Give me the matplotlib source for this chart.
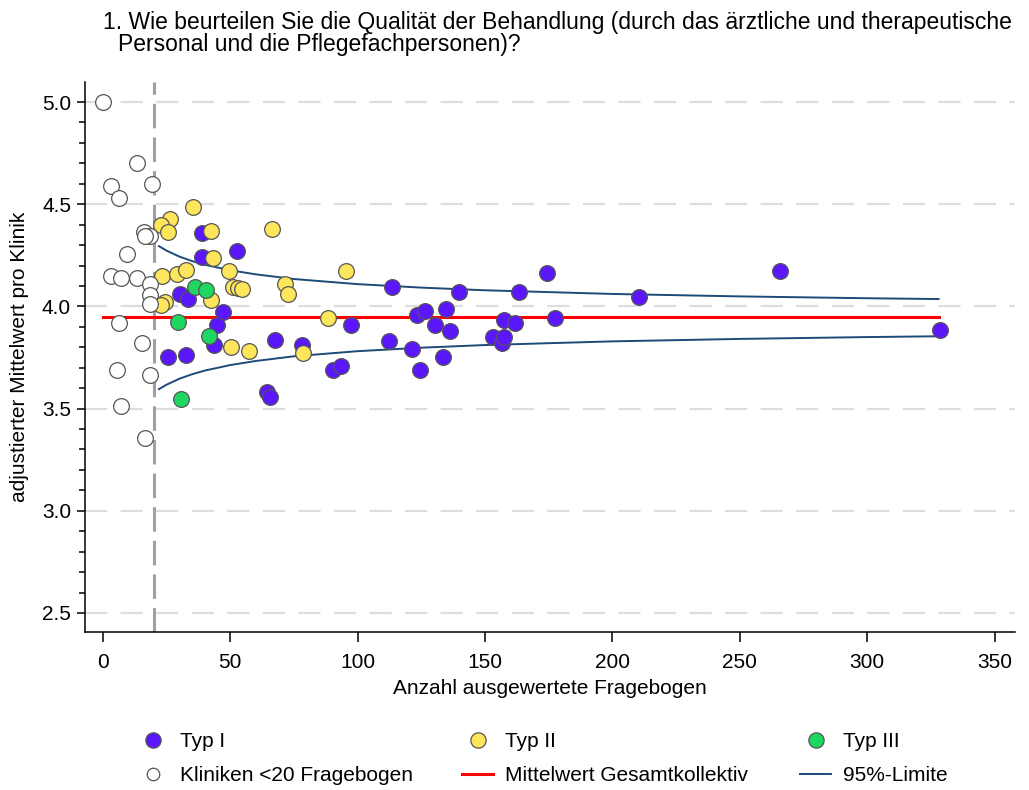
import matplotlib.pyplot as plt
from matplotlib.lines import Line2D
from matplotlib.ticker import MultipleLocator

plt.rcParams['font.family'] = ['Liberation Sans', 'DejaVu Sans']

# Typ I
typ1_n = [39.1, 52.5, 39.1, 30.2, 33.5, 47.3, 44.7, 43.6, 25.4, 32.5, 67.6, 78.0, 64.3, 65.6,
          113.4, 139.6, 97.4, 90.5, 93.5, 123.2, 126.6, 130.4, 134.5, 136.3, 112.4, 121.5,
          124.5, 133.4, 163.5, 174.5, 157.5, 161.6, 153.3, 156.6, 157.6, 177.5, 210.5, 265.6, 328.4]
typ1_mw = [4.36, 4.27, 4.243, 4.06, 4.035, 3.974, 3.91, 3.81, 3.754, 3.762, 3.836, 3.81, 3.583, 3.555,
           4.097, 4.069, 3.91, 3.689, 3.71, 3.958, 3.979, 3.91, 3.987, 3.88, 3.83, 3.79,
           3.689, 3.754, 4.072, 4.162, 3.933, 3.917, 3.852, 3.823, 3.852, 3.945, 4.046, 4.173, 3.885]

# Typ II
typ2_n = [35.2, 26.4, 23.0, 25.4, 42.4, 66.5, 43.3, 23.4, 29.3, 32.5, 49.5, 51.2, 52.9, 54.5,
          42.4, 24.4, 22.8, 71.5, 72.5, 50.3, 57.3, 78.4, 95.4, 88.5]
typ2_mw = [4.488, 4.43, 4.40, 4.365, 4.37, 4.38, 4.235, 4.15, 4.16, 4.18, 4.175, 4.093, 4.09, 4.085,
           4.03, 4.02, 4.007, 4.11, 4.06, 3.80, 3.784, 3.77, 4.175, 3.945]

# Typ III
typ3_n = [36.1, 40.5, 29.6, 41.6, 30.5]
typ3_mw = [4.097, 4.08, 3.925, 3.855, 3.545]

# Kliniken <20 Fragebogen
klein_n = [0, 13.3, 3.3, 19.3, 6.4, 16.1, 18.5, 16.5, 9.4, 3.3, 7.3, 13.5, 18.5, 18.5, 18.5,
           6.3, 15.4, 5.5, 18.5, 7.3, 16.5]
klein_mw = [5.0, 4.70, 4.59, 4.60, 4.53, 4.365, 4.345, 4.345, 4.256, 4.15, 4.14, 4.14, 4.11, 4.056, 4.01,
            3.917, 3.822, 3.689, 3.664, 3.514, 3.355]

# Mittelwert Gesamtkollektiv
mittel_n = [0, 328]
mittel_mw = [3.946, 3.946]

# 95%-Limite (read along the funnel)
limit_n = [22, 25, 30, 35, 40, 50, 60, 75, 100, 125, 150, 200, 250, 300, 328]
limit_oben = [4.295, 4.273, 4.244, 4.222, 4.204, 4.177, 4.157, 4.134, 4.109, 4.092, 4.079,
              4.061, 4.049, 4.040, 4.036]
limit_unten = [3.595, 3.617, 3.646, 3.668, 3.686, 3.713, 3.733, 3.756, 3.781, 3.798, 3.811,
               3.829, 3.841, 3.850, 3.854]

grenze_n = 20

c_typ1 = '#5b17fb'
c_typ2 = '#fde55c'
c_typ3 = '#1ed760'
c_limit = '#1d4a78'
edge = '#555555'
fs = 15

fig = plt.figure(figsize=(10.29, 7.90), dpi=100)
ax = fig.add_axes([85 / 1029, 1 - 632 / 790, 930 / 1029, 550 / 790])

ax.set_xlim(-7, 358)
ax.set_ylim(2.407, 5.098)

for y in [2.5, 3.0, 3.5, 4.0, 4.5, 5.0]:
    ax.axhline(y, color='#dddddd', lw=1.6, dashes=(10, 6), zorder=0)

ax.axvline(grenze_n, color='#a0a0a0', lw=2.2, dashes=(8, 3), zorder=1)

ax.plot(mittel_n, mittel_mw, color='#ff0000', lw=2.2, zorder=2)
ax.plot(limit_n, limit_oben, color=c_limit, lw=1.4, zorder=2)
ax.plot(limit_n, limit_unten, color=c_limit, lw=1.4, zorder=2)

ms = 128
ax.scatter(typ1_n, typ1_mw, s=ms, color=c_typ1, edgecolor=edge, lw=0.9, zorder=3)
ax.scatter(typ2_n, typ2_mw, s=ms, color=c_typ2, edgecolor=edge, lw=0.9, zorder=3)
ax.scatter(typ3_n, typ3_mw, s=ms, color=c_typ3, edgecolor=edge, lw=0.9, zorder=3)
ax.scatter(klein_n, klein_mw, s=ms, color='white', edgecolor=edge, lw=0.9, zorder=3)

ax.spines['top'].set_visible(False)
ax.spines['right'].set_visible(False)
ax.spines['left'].set_linewidth(1.1)
ax.spines['bottom'].set_linewidth(1.1)

ax.set_xticks([0, 50, 100, 150, 200, 250, 300, 350])
ax.set_yticks([2.5, 3.0, 3.5, 4.0, 4.5, 5.0])
ax.set_yticklabels(['2.5', '3.0', '3.5', '4.0', '4.5', '5.0'])
ax.yaxis.set_minor_locator(MultipleLocator(0.1))
ax.tick_params(axis='x', length=7, width=1.1, pad=8, labelsize=fs)
ax.tick_params(axis='y', which='major', length=6, width=1.1, pad=4, labelsize=fs)
ax.tick_params(axis='y', which='minor', length=4.5, width=1.1)

ax.set_xlabel('Anzahl ausgewertete Fragebogen', fontsize=fs, labelpad=5)
ax.set_ylabel('adjustierter Mittelwert pro Klinik', fontsize=fs, labelpad=9)

fig.text(103 / 1029, 1 - 22 / 790,
         '1. Wie beurteilen Sie die Qualität der Behandlung (durch das ärztliche und therapeutische',
         fontsize=16.5, va='center', ha='left')
fig.text(118 / 1029, 1 - 45 / 790,
         'Personal und die Pflegefachpersonen)?', fontsize=16.5, va='center', ha='left')


def punkt(farbe):
    return Line2D([], [], ls='none', marker='o', markersize=11, markerfacecolor=farbe,
                  markeredgecolor=edge, markeredgewidth=0.9)


spalten = [
    ([punkt(c_typ1), Line2D([], [], ls='none', marker='o', markersize=9, markerfacecolor='white',
                            markeredgecolor=edge, markeredgewidth=0.9)],
     ['Typ I', 'Kliniken <20 Fragebogen'], 137),
    ([punkt(c_typ2), Line2D([], [], color='#ff0000', lw=2.2)],
     ['Typ II', 'Mittelwert Gesamtkollektiv'], 462),
    ([punkt(c_typ3), Line2D([], [], color=c_limit, lw=1.4)],
     ['Typ III', '95%-Limite'], 800),
]
for handles, labels, xpx in spalten:
    leg = fig.legend(handles, labels, loc='upper left', bbox_to_anchor=(xpx / 1029, 1 - 732 / 790),
                     frameon=False, fontsize=fs, handlelength=1.5, handletextpad=0.55,
                     labelspacing=0.72, borderpad=0, borderaxespad=0)

fig.savefig('out.png', dpi=100)
